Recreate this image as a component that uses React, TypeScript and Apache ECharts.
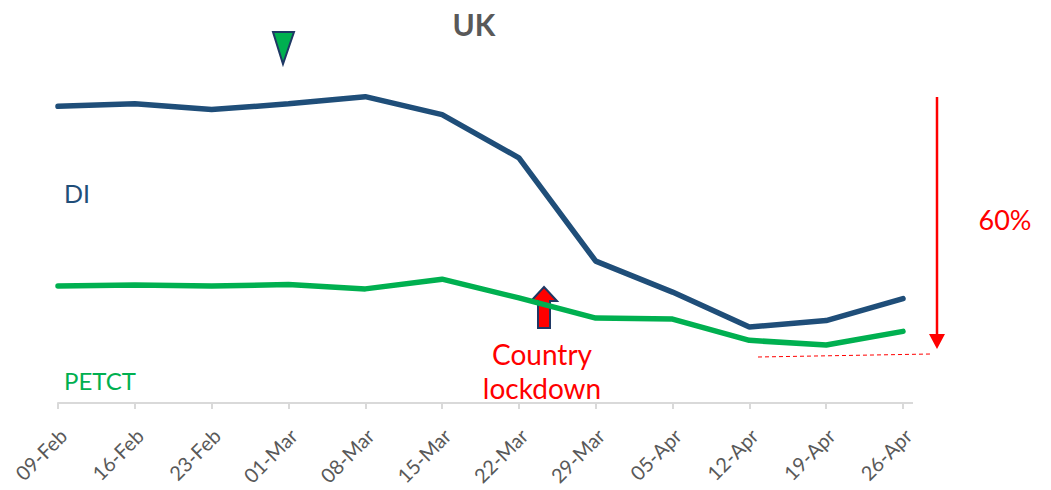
import React, { useEffect, useRef } from "react";
import * as echarts from "echarts";

const categories = ["09-Feb", "16-Feb", "23-Feb", "01-Mar", "08-Mar", "15-Mar", "22-Mar", "29-Mar", "05-Apr", "12-Apr", "19-Apr", "26-Apr"];
const diValues = [82.4, 83.1, 81.5, 83.1, 85.1, 80.1, 68.1, 39.4, 30.8, 21.1, 22.9, 29.0];
const petctValues = [32.5, 32.8, 32.5, 32.9, 31.7, 34.4, 29.2, 23.6, 23.3, 17.4, 16.1, 19.9];

const FONT = "Lato, 'Noto Sans', sans-serif";
const DI_COLOR = "#1F4E79";
const PET_COLOR = "#00B050";
const LABEL_SHIFT = 5;

export default function App() {
  const ref = useRef<HTMLDivElement>(null);
  useEffect(() => {
    if (!ref.current) return;
    const chart = echarts.init(ref.current, null, { renderer: "svg" });
    chart.setOption({
      animation: false,
      backgroundColor: "#ffffff",
      title: {
        text: "UK",
        left: 469,
        top: 4,
        textAlign: "center",
        textStyle: { fontFamily: FONT, fontSize: 30, fontWeight: "bold", color: "#595959" },
      },
      grid: [
        { left: 58, right: 148, top: 43, bottom: 87 },
        { left: 58 + LABEL_SHIFT, right: 148 - LABEL_SHIFT, top: 43, bottom: 87 },
      ],
      xAxis: [
        {
          type: "category",
          gridIndex: 0,
          data: categories,
          boundaryGap: false,
          axisLine: { lineStyle: { color: "#D9D9D9", width: 2 } },
          axisTick: { show: true, length: 6, lineStyle: { color: "#D9D9D9", width: 2 } },
          axisLabel: { show: false },
          splitLine: { show: false },
        },
        {
          type: "category",
          gridIndex: 1,
          data: categories,
          boundaryGap: false,
          axisLine: { show: false },
          axisTick: { show: false },
          axisLabel: { rotate: 45, fontFamily: FONT, fontSize: 20, color: "#595959", margin: 29, interval: 0 },
          splitLine: { show: false },
        },
      ],
      yAxis: [
        { type: "value", gridIndex: 0, min: 0, max: 100, show: false, splitLine: { show: false } },
        { type: "value", gridIndex: 1, min: 0, max: 100, show: false, splitLine: { show: false } },
      ],
      series: [
        {
          name: "DI",
          type: "line",
          data: diValues,
          showSymbol: false,
          lineStyle: { color: DI_COLOR, width: 5.5, cap: "round" },
          itemStyle: { color: DI_COLOR },
        },
        {
          name: "PETCT",
          type: "line",
          data: petctValues,
          showSymbol: false,
          lineStyle: { color: PET_COLOR, width: 5.5, cap: "round" },
          itemStyle: { color: PET_COLOR },
        },
      ],
      graphic: [
        { type: "line", shape: { x1: 903, y1: 403, x2: 913, y2: 403 }, style: { stroke: "#D9D9D9", lineWidth: 2 } },
        { type: "text", x: 64, y: 193, style: { text: "DI", fontFamily: FONT, fontSize: 25, fill: DI_COLOR, verticalAlign: "middle" } },
        { type: "text", x: 64, y: 380, style: { text: "PETCT", fontFamily: FONT, fontSize: 24, fill: PET_COLOR, verticalAlign: "middle" } },
        {
          type: "text", x: 542, y: 354,
          style: { text: "Country", fontFamily: FONT, fontSize: 28, fill: "#FF0000", align: "center", verticalAlign: "middle" },
        },
        {
          type: "text", x: 542, y: 388,
          style: { text: "lockdown", fontFamily: FONT, fontSize: 28, fill: "#FF0000", align: "center", verticalAlign: "middle" },
        },
        { type: "text", x: 1005, y: 219, style: { text: "60%", fontFamily: FONT, fontSize: 27, fill: "#FF0000", align: "center", verticalAlign: "middle" } },
        {
          type: "polygon",
          shape: { points: [[273, 32], [294, 32], [283, 64]] },
          style: { fill: "#00B050", stroke: "#1F3864", lineWidth: 2 },
        },
        {
          type: "polygon",
          shape: { points: [[544, 287], [557, 301], [550, 301], [550, 328], [538, 328], [538, 301], [531, 301]] },
          style: { fill: "#FF0000", stroke: "#1F3864", lineWidth: 2 },
        },
        { type: "line", shape: { x1: 937, y1: 97, x2: 937, y2: 336 }, style: { stroke: "#FF0000", lineWidth: 2.5 } },
        { type: "polygon", shape: { points: [[929, 334], [945, 334], [937, 349]] }, style: { fill: "#FF0000" } },
        { type: "line", shape: { x1: 758, y1: 357, x2: 931, y2: 354 }, style: { stroke: "#FF0000", lineWidth: 1, lineDash: [4, 3] } },
      ],
    });
    return () => chart.dispose();
  }, []);
  return <div ref={ref} style={{ position: "absolute", left: 0, top: 0, width: 1051, height: 490 }} />;
}
